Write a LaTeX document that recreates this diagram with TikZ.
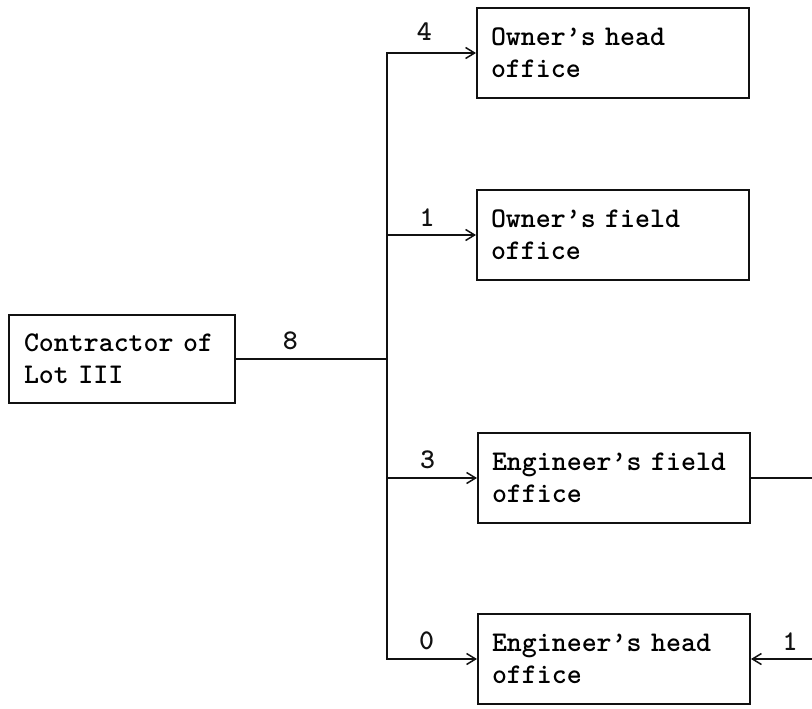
\documentclass[tikz,border=0pt]{standalone}
\usepackage{fontspec}
\usetikzlibrary{arrows.meta,positioning}
\definecolor{ink}{HTML}{111111}

\begin{document}
\begin{tikzpicture}[
  x=1pt, y=-1pt,
  font=\ttfamily\bfseries\fontsize{28.5}{32}\selectfont,
  office/.style = {draw=ink, line width=2pt, minimum width=272pt, minimum height=90pt,
                   text width=244pt, inner xsep=14pt, align=left,
                   text height=17pt, text depth=32pt},
  ln/.style   = {draw=ink, line width=1.5pt},
  ar/.style   = {ln, -{Straight Barb[length=9pt, width=11pt]}},
  lbl/.style  = {text=ink, inner sep=2pt},
]
\useasboundingbox (0,0) rectangle (812,709);

% --- the four offices, one under the other ---------------------------------------------------------
\node[office]                                    (ohead)  at (613,53) {Owner’s head\\office};
\node[office, below=90pt of ohead]               (ofield) {Owner’s field\\office};
\node[office, below=151pt of ofield, xshift=1pt] (efield) {Engineer’s field\\office};
\node[office, below=89pt of efield]              (ehead)  {Engineer’s head\\office};

% --- the contractor, and where the lines split ------------------------------------------------------
\node[office, minimum width=226pt, minimum height=88pt, text width=196pt, inner xsep=15pt]
      (contr) at (122,359) {Contractor of\\Lot III};
\coordinate (trunk) at (387,359);
\coordinate (rim)   at (812,0);

\draw[ln] (contr.east) -- node[lbl, above=6pt, pos=0.36] {8} (trunk);
\draw[ln, line cap=rect] (trunk |- ohead.west) -- (trunk |- ehead.west);

% --- out to each office -------------------------------------------------------------------------------
\draw[ar] (trunk |- ohead.west)  -- node[lbl, above=10pt, pos=0.42] {4} (ohead.west);
\draw[ar] (trunk |- ofield.west) -- node[lbl, above=6pt,  pos=0.45] {1} (ofield.west);
\draw[ar] (trunk |- efield.west) -- node[lbl, above=6pt,  pos=0.45] {3} (efield.west);
\draw[ar] (trunk |- ehead.west)  -- node[lbl, above=6pt,  pos=0.44] {0} (ehead.west);

% --- off the right edge -------------------------------------------------------------------------------
\draw[ln] (efield.east) -- (efield.east -| rim);
\draw[ar] (ehead.east -| rim) -- node[lbl, above=6pt, pos=0.36] {1} (ehead.east);

\end{tikzpicture}
\end{document}
